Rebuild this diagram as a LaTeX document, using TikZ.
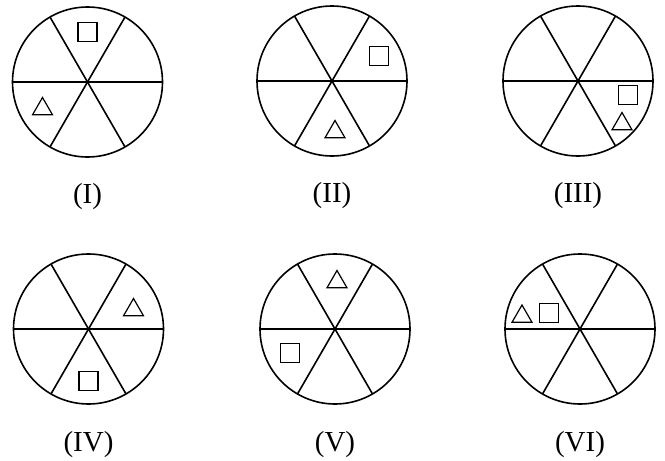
\documentclass[tikz,border=0pt]{standalone}
\usepackage{fontspec}
\setmainfont{Liberation Serif}
\usetikzlibrary{shapes.geometric, positioning}

\begin{document}
\begin{tikzpicture}[x=1pt, y=-1pt,
    wheel/.style={circle, draw, line width=1.6pt, minimum size=150pt, inner sep=0pt, outer sep=0pt},
    spoke/.style={line width=1.6pt},
    sq/.style={rectangle, draw, line width=1.2pt, minimum size=19pt, inner sep=0pt},
    tri/.style={regular polygon, regular polygon sides=3, draw, line width=1.2pt, minimum size=23pt, inner sep=0pt},
    tag/.style={font=\fontsize{29}{32}\selectfont}]

    \useasboundingbox (0,0) rectangle (665,461);

    % top row
    \node (CircI) [wheel] at (87.5,82) {};
    \draw[spoke] (CircI.west) -- (CircI.east);
    \draw[spoke] (CircI.60) -- (CircI.240);
    \draw[spoke] (CircI.120) -- (CircI.300);
    \node (SqI) [sq] at ([shift={(0,-50)}]CircI) {};
    \node (TriI) [tri] at ([shift={(-45,27)}]CircI) {};
    \node (LabI) [tag, below=23pt of CircI] {(I)};

    \node (CircII) [wheel] at (332,81) {};
    \draw[spoke] (CircII.west) -- (CircII.east);
    \draw[spoke] (CircII.60) -- (CircII.240);
    \draw[spoke] (CircII.120) -- (CircII.300);
    \node (SqII) [sq] at ([shift={(47,-25)}]CircII) {};
    \node (TriII) [tri] at ([shift={(3,51)}]CircII) {};
    \node (LabII) [tag, below=23pt of CircII] {(II)};

    \node (CircIII) [wheel] at (578,81) {};
    \draw[spoke] (CircIII.west) -- (CircIII.east);
    \draw[spoke] (CircIII.60) -- (CircIII.240);
    \draw[spoke] (CircIII.120) -- (CircIII.300);
    \node (SqIII) [sq] at ([shift={(50,14)}]CircIII) {};
    \node (TriIII) [tri] at ([shift={(44,43)}]CircIII) {};
    \node (LabIII) [tag, below=23pt of CircIII] {(III)};

    % bottom row
    \node (CircIV) [wheel] at (88.5,329) {};
    \draw[spoke] (CircIV.west) -- (CircIV.east);
    \draw[spoke] (CircIV.60) -- (CircIV.240);
    \draw[spoke] (CircIV.120) -- (CircIV.300);
    \node (TriIV) [tri] at ([shift={(45,-19)}]CircIV) {};
    \node (SqIV) [sq] at ([shift={(0,52)}]CircIV) {};
    \node (LabIV) [tag, below=24pt of CircIV] {(IV)};

    \node (CircV) [wheel] at (335,329) {};
    \draw[spoke] (CircV.west) -- (CircV.east);
    \draw[spoke] (CircV.60) -- (CircV.240);
    \draw[spoke] (CircV.120) -- (CircV.300);
    \node (TriV) [tri] at ([shift={(2,-47)}]CircV) {};
    \node (SqV) [sq] at ([shift={(-45,24)}]CircV) {};
    \node (LabV) [tag, below=24pt of CircV] {(V)};

    \node (CircVI) [wheel] at (580,329) {};
    \draw[spoke] (CircVI.west) -- (CircVI.east);
    \draw[spoke] (CircVI.60) -- (CircVI.240);
    \draw[spoke] (CircVI.120) -- (CircVI.300);
    \node (TriVI) [tri] at ([shift={(-58,-12.5)}]CircVI) {};
    \node (SqVI) [sq] at ([shift={(-31,-16)}]CircVI) {};
    \node (LabVI) [tag, below=24pt of CircVI] {(VI)};
\end{tikzpicture}
\end{document}
